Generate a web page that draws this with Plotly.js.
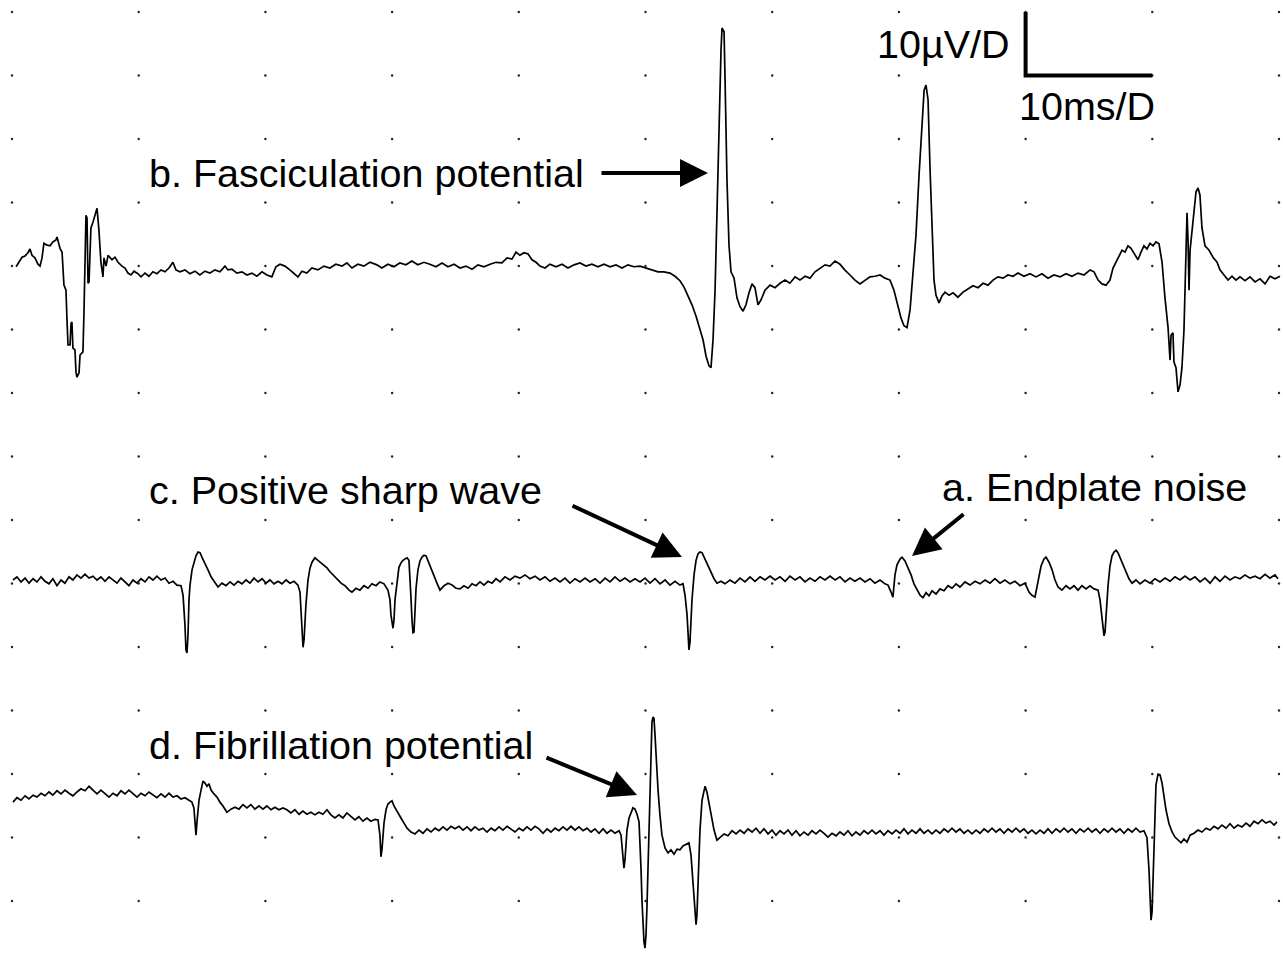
<!DOCTYPE html>
<html>
<head>
<meta charset="utf-8">
<script src="https://cdn.plot.ly/plotly-3.0.1.min.js"></script>
<style>html,body{margin:0;padding:0;background:#fff;}#chart{width:1283px;height:965px;}</style>
</head>
<body>
<div id="chart"></div>
<script>
// ---------------- DATA (time in ms, amplitude in µV relative to each trace's baseline) ----------------
// b. Fasciculation potential trace (top)
const traceB_ms = [
0.32,0.55,0.79,1.03,1.26,1.42,1.58,1.81,2.05,2.21,
2.37,2.52,2.76,3.0,3.23,3.47,3.55,3.79,3.95,4.10,
4.26,4.34,4.42,4.58,4.66,4.73,4.81,4.97,5.05,5.13,
5.29,5.37,5.60,5.68,5.76,5.84,5.92,6.0,6.08,6.15,
6.23,6.39,6.55,6.71,6.86,6.94,7.02,7.18,7.26,7.42,
7.58,7.89,8.13,8.37,8.68,8.92,9.15,9.39,9.63,9.94,
10.18,10.49,10.81,11.12,11.44,11.76,12.07,12.39,12.7,12.94,
13.26,13.65,14.04,14.44,14.83,15.23,15.62,16.02,16.41,16.81,
17.04,17.36,17.75,18.15,18.54,18.94,19.33,19.73,20.12,20.51,
20.83,21.15,21.54,21.93,22.33,22.57,22.88,23.27,23.67,24.14,
24.62,25.09,25.56,26.04,26.43,26.83,27.3,27.77,28.25,28.8,
29.19,29.67,30.14,30.61,31.09,31.56,32.03,32.51,32.98,
33.46,33.94,34.41,34.89,35.36,35.83,36.31,36.78,37.25,37.73,
38.2,38.67,39.07,39.46,39.78,40.09,40.41,40.73,41.04,41.36,
41.67,42.07,42.46,42.94,43.41,43.88,44.36,44.83,45.3,45.77,
46.25,46.72,47.2,47.67,48.14,48.62,49.09,49.57,50.04,50.51,
50.99,51.46,51.93,52.33,52.72,53.04,53.35,53.67,53.99,54.3,
54.54,54.78,55.01,55.17,55.33,55.49,55.64,55.8,55.96,56.04,
56.2,56.28,56.43,56.59,56.75,56.99,57.22,57.46,57.7,57.93,
58.17,58.41,58.64,58.88,59.12,59.43,59.83,60.22,60.62,61.01,
61.4,61.8,62.19,62.59,62.98,63.38,63.77,64.17,64.56,64.96,
65.35,65.72,66.14,66.53,66.93,67.32,67.72,68.11,68.51,68.9,
69.3,69.61,69.93,70.17,70.4,70.64,70.88,71.12,71.35,71.59,
71.83,71.99,72.14,72.3,72.46,72.62,72.77,72.93,73.17,73.4,
73.64,73.96,74.27,74.66,75.06,75.45,75.85,76.24,76.64,77.03,
77.43,77.82,78.22,78.61,79.01,79.4,79.87,80.35,80.82,81.29,
81.77,82.24,82.72,83.19,83.66,84.14,84.61,85.09,85.4,85.72,
86.03,86.35,86.66,86.9,87.13,87.37,87.61,87.85,88.08,88.32,
88.63,88.87,89.11,89.34,89.58,89.82,90.06,90.29,90.53,90.77,
91.0,91.24,91.4,91.48,91.63,91.71,91.87,92.03,92.19,92.34,
92.5,92.58,92.74,92.82,92.9,92.98,93.13,93.29,93.45,93.61,
93.76,93.92,94.16,94.48,94.79,95.11,95.34,95.66,95.98,96.29,
96.61,96.92,97.32,97.71,98.11,98.5,98.9,99.29,99.68,100.08
];
const traceB_uV = [
0.2,0.9,1.7,1.9,2.4,3.0,2.0,1.6,0.6,0.3,
1.6,3.9,3.6,3.5,4.1,4.4,4.9,3.1,2.5,-2.7,
-3.5,-8.2,-12.1,-12.1,-8.7,-8.5,-12.6,-12.9,-16.4,-17.2,
-16.5,-13.7,-13.2,-7.1,1.3,8.3,7.9,-2.4,-2.2,3.6,
6.3,7.2,8.5,9.4,6.0,2.8,0.9,-1.4,1.6,0.3,
2.0,1.3,1.7,0.9,0.3,0,-0.8,-1.1,-0.5,-0.9,
-1.4,-0.8,-1.3,-0.6,-0.9,-0.3,-0.6,0,0.9,-0.3,
-0.6,-0.3,-0.9,-0.5,-1.1,-0.5,-0.8,-0.3,-0.6,0.3,
-0.3,-0.2,-0.8,-0.6,-1.1,-0.8,-1.3,-0.6,-1.1,-1.4,
0.2,0.6,0.3,-0.3,-0.9,-1.4,-0.5,-0.8,0,-0.3,
0.3,0,0.6,0.3,0.8,0,0.6,0.3,0.9,0.5,
0,0.6,0.2,0.8,0.5,1.1,0.5,0.9,0.6,
0.2,0.8,0.2,0.6,0,0.3,-0.2,0.5,0.2,0.6,
0.9,0.8,1.6,1.4,2.5,2.0,2.4,2.2,1.3,0.9,
0.3,0,0.6,0.2,0.6,0,0.5,0.8,0.3,0.6,
0.2,0.6,0.2,0.5,0,0.5,0.2,0.3,0,-0.3,
-0.6,-0.6,-0.8,-1.3,-2.0,-3.0,-4.3,-5.8,-7.6,-9.8,
-11.3,-13.9,-15.4,-15.7,-11.3,-3.5,9.9,23.3,34.3,37.8,
37.2,29.6,13.9,3.6,-0.6,-1.6,-4.7,-6.1,-6.8,-5.8,
-3.9,-2.5,-3.1,-5.8,-5.0,-3.5,-2.7,-3.1,-2.4,-1.9,
-2.4,-1.4,-1.9,-1.3,-1.6,-0.6,0,0.5,0.3,1.1,
0.6,-0.3,-1.1,-1.9,-2.5,-1.9,-1.4,-1.3,-1.1,-1.6,
-1.9,-3.5,-5.8,-7.9,-9.1,-9.4,-6.6,-1.1,5.2,14.6,
22.5,28.0,28.8,26.5,15.4,6.0,-1.9,-4.3,-5.5,-4.4,
-3.8,-4.3,-3.9,-4.6,-3.8,-3.3,-2.8,-3.1,-2.4,-2.7,
-1.9,-1.4,-1.6,-1.1,-1.3,-0.8,-1.3,-0.9,-1.4,-0.9,
-1.6,-1.1,-1.4,-0.9,-1.3,-0.8,-1.1,-0.3,-0.6,-1.9,
-2.5,-2.7,-1.9,0,0.9,1.9,2.8,2.5,3.5,3.1,
2.0,1.3,2.5,3.5,3.0,3.9,3.5,4.1,3.8,0.9,
-4.7,-9.3,-14.5,-10.6,-10.2,-14.8,-15.7,-19.5,-18.4,-15.7,
-9.8,-4.3,8.7,4.4,-3.5,2.8,6.0,9.4,12.0,12.6,
11.5,6.3,3.5,2.8,1.7,0.9,-0.3,-1.1,-1.9,-1.3,
-1.9,-1.4,-2.0,-1.4,-2.2,-1.7,-2.5,-1.3,-1.7,-1.3
];

// c. Positive sharp waves + a. endplate noise trace (middle)
const traceC_ms = [
0.08,0.39,0.71,1.03,1.34,1.66,1.97,2.29,2.6,2.92,
3.23,3.55,3.87,4.18,4.5,4.81,5.13,5.44,5.76,6.08,
6.39,6.71,7.02,7.34,7.66,7.97,8.29,8.6,8.92,9.23,
9.55,9.87,10.18,10.5,10.81,11.13,11.44,11.76,12.08,12.39,
12.71,13.02,13.34,13.5,13.65,13.73,13.81,13.89,13.97,14.05,
14.21,14.36,14.52,14.68,14.84,14.99,15.15,15.31,15.47,15.71,
15.94,16.26,16.57,16.89,17.21,17.52,17.84,18.15,18.47,18.78,
19.1,19.42,19.73,20.05,20.36,20.68,21.0,21.31,21.63,21.94,
22.26,22.57,22.73,22.81,22.89,22.97,23.05,23.13,23.2,23.36,
23.52,23.68,23.91,24.15,24.39,24.62,24.86,25.1,25.33,25.65,
25.97,26.28,26.6,26.83,27.15,27.46,27.78,28.1,28.41,28.73,
29.04,29.36,29.67,29.83,29.91,30.07,30.15,30.23,30.39,30.54,
30.7,30.86,31.02,31.18,31.33,31.41,31.49,31.57,31.65,31.73,
31.81,31.89,32.04,32.2,32.36,32.52,32.68,32.83,33.07,33.31,
33.54,33.78,34.1,34.41,34.73,35.04,35.36,35.67,35.99,36.31,
36.62,36.94,37.25,37.57,37.89,38.2,38.52,38.91,39.31,39.7,
40.09,40.49,40.88,41.28,41.67,42.07,42.46,42.86,43.25,43.65,
44.04,44.44,44.83,45.23,45.62,46.02,46.41,46.81,47.2,47.59,
47.99,48.38,48.78,49.17,49.57,49.96,50.36,50.75,51.15,51.54,
51.93,52.33,52.72,52.96,53.12,53.28,53.35,53.43,53.51,53.59,
53.67,53.83,53.99,54.14,54.3,54.46,54.62,54.78,54.93,55.17,
55.41,55.64,55.96,56.27,56.67,57.06,57.46,57.85,58.25,58.64,
59.04,59.43,59.83,60.22,60.62,61.01,61.4,61.8,62.19,62.59,
62.98,63.38,63.77,64.17,64.56,64.96,65.35,65.75,66.14,66.53,
66.93,67.32,67.72,68.11,68.51,68.9,69.14,69.38,69.53,69.69,
69.85,70.09,70.25,70.48,70.72,70.96,71.19,71.43,71.67,71.9,
72.14,72.38,72.61,72.93,73.24,73.56,73.88,74.19,74.51,74.82,
75.22,75.61,76.01,76.4,76.8,77.19,77.58,77.98,78.37,78.77,
79.16,79.56,79.95,80.27,80.5,80.74,80.98,81.22,81.45,81.61,
81.85,82.09,82.32,82.56,82.87,83.19,83.5,83.82,84.14,84.45,
84.77,85.08,85.4,85.72,85.87,86.03,86.19,86.27,86.35,86.51,
86.66,86.82,86.98,87.14,87.29,87.45,87.69,87.92,88.16,88.4,
88.71,89.03,89.42,89.82,90.21,90.61,91.0,91.4,91.79,92.19,
92.58,92.98,93.37,93.77,94.16,94.56,94.95,95.34,95.74,96.13,
96.53,96.92,97.32,97.71,98.11,98.5,98.9,99.29,99.68,99.92
];
const traceC_uV = [
0,0.5,-0.3,0.3,-0.5,0.2,-0.3,0.5,-0.2,-0.6,
0.2,-0.9,0,-0.5,0.5,0,0.8,0.3,0.9,0.3,
0.6,0,0.5,-0.2,0.5,0,-0.5,0.3,-0.3,-0.9,
0,-0.5,0.2,-0.3,0.5,0,0.6,0,0.3,-0.5,
-0.2,-0.8,-0.9,-2.4,-7.1,-11.0,-11.5,-8.7,-3.1,-0.8,
1.6,2.8,3.8,4.4,4.3,3.6,3.0,2.2,1.6,0.5,
-0.2,-1.1,-0.5,-0.9,-0.3,-0.8,-0.2,-0.6,0,-0.5,
0.3,-0.3,0.2,-0.5,0,-0.6,-0.2,-0.6,0,-0.5,
-0.2,-0.8,-1.9,-4.7,-7.9,-10.6,-9.4,-6.3,-3.9,0,
1.9,2.8,3.5,3.1,2.7,2.2,1.9,1.3,0.8,0.2,
-0.5,-0.9,-1.6,-1.9,-1.3,-1.6,-0.9,-1.3,-0.6,-0.9,
-0.3,-0.6,-1.6,-3.1,-5.5,-7.6,-6.3,-3.1,0,2.0,
2.7,3.1,3.3,3.5,3.1,0.8,-2.8,-6.3,-8.3,-8.2,
-4.7,-1.3,1.6,3.0,3.6,3.9,3.8,3.0,1.9,0.6,
-0.5,-1.6,-0.9,-0.5,-0.8,-1.3,-1.4,-0.9,-1.3,-0.6,
-0.9,-0.3,-0.8,-0.2,-0.5,0.2,-0.3,0.5,0,0.6,
0.3,0.8,0.2,0.6,0,0.5,-0.2,0.3,-0.3,0.3,
-0.5,0.2,-0.3,0.3,-0.3,0.2,-0.5,0.3,-0.3,0.5,
-0.2,0.3,-0.3,0.2,-0.3,0.3,-0.5,0.2,-0.6,0,
-0.8,-0.2,-0.8,-0.6,-2.4,-5.5,-8.7,-11.0,-9.8,-6.3,
-3.1,0.8,3.1,4.1,4.4,4.3,3.6,2.8,2.2,1.1,
0.2,-0.5,-0.2,-0.6,0,-0.5,0.3,-0.3,0.5,-0.2,
0.5,0,0.6,0,0.5,-0.2,0.6,0,0.5,-0.3,
0.3,-0.2,0.5,0,0.6,0,0.5,-0.3,0.3,-0.2,
0.3,-0.3,0.2,-0.5,0,-0.6,-0.8,-1.9,-2.7,0.8,
2.4,3.3,3.6,3.0,2.0,0.8,-0.6,-1.6,-2.4,-2.8,
-2.0,-2.5,-1.7,-2.2,-1.4,-1.7,-0.9,-1.3,-0.6,-1.1,
-0.3,-0.8,-0.2,-0.6,0,-0.5,0.2,-0.5,0,-0.6,
-0.2,-0.9,-0.5,-1.9,-2.4,-2.7,0,2.2,3.3,3.6,
2.8,1.6,0,-1.1,-1.6,-0.9,-1.4,-0.9,-1.6,-0.9,
-1.4,-0.9,-1.4,-1.6,-3.1,-6.0,-8.8,-8.2,-5.0,-0.8,
2.2,3.8,4.4,4.7,4.3,3.5,2.4,1.3,0.2,-0.5,
0,-0.6,0,-0.5,0.2,-0.3,0.3,-0.2,0.5,0,
0.6,0,0.5,-0.3,0.3,-0.5,0.5,-0.2,0.6,0,
0.5,0.2,0.8,0.3,0.6,0.2,0.9,0.3,0.8,0.2
];

// d. Fibrillation potential trace (bottom)
const traceD_ms = [
0.08,0.39,0.71,1.03,1.34,1.66,1.97,2.29,2.6,2.92,
3.23,3.55,3.87,4.18,4.5,4.81,5.13,5.44,5.76,6.08,
6.39,6.71,7.02,7.34,7.66,7.97,8.29,8.6,8.92,9.23,
9.55,9.87,10.18,10.5,10.81,11.13,11.44,11.76,12.08,12.39,
12.71,13.02,13.34,13.65,13.97,14.2,14.36,14.52,14.6,14.76,
14.92,15.07,15.23,15.39,15.55,15.71,15.94,16.18,16.41,16.65,
16.96,17.28,17.59,17.91,18.23,18.54,18.86,19.17,19.49,19.8,
20.12,20.44,20.75,21.07,21.38,21.7,22.01,22.33,22.65,22.96,
23.28,23.59,23.91,24.22,24.54,24.86,25.17,25.49,25.8,26.12,
26.43,26.75,27.07,27.38,27.7,28.01,28.33,28.65,28.89,29.04,
29.12,29.2,29.36,29.52,29.67,29.83,29.99,30.15,30.31,30.46,
30.7,30.94,31.18,31.49,31.81,32.12,32.44,32.75,33.07,33.39,
33.7,34.02,34.33,34.65,34.96,35.28,35.6,35.91,36.23,36.54,
36.86,37.17,37.49,37.81,38.12,38.44,38.75,39.07,39.38,39.7,
40.02,40.33,40.65,40.96,41.28,41.59,41.91,42.23,42.54,42.86,
43.17,43.49,43.8,44.12,44.44,44.75,45.07,45.38,45.7,46.01,
46.33,46.65,46.96,47.28,47.59,47.91,48.07,48.22,48.3,48.38,
48.54,48.7,48.85,49.01,49.17,49.33,49.49,49.57,49.65,49.72,
49.8,49.88,49.96,50.04,50.12,50.2,50.28,50.36,50.43,50.51,
50.59,50.67,50.75,50.83,50.99,51.14,51.3,51.54,51.78,52.01,
52.25,52.49,52.72,52.96,53.2,53.43,53.59,53.75,53.91,53.99,
54.06,54.14,54.3,54.46,54.62,54.7,54.85,55.01,55.17,55.41,
55.64,55.88,56.2,56.51,56.83,57.15,57.46,57.78,58.09,58.41,
58.72,59.04,59.35,59.67,59.98,60.3,60.62,60.93,61.25,61.56,
61.88,62.19,62.51,62.83,63.14,63.46,63.77,64.09,64.4,64.72,
65.04,65.35,65.67,65.98,66.3,66.61,66.93,67.25,67.56,67.88,
68.19,68.51,68.82,69.14,69.46,69.77,70.09,70.4,70.72,71.03,
71.35,71.67,71.98,72.3,72.61,72.93,73.24,73.56,73.88,74.19,
74.51,74.82,75.14,75.45,75.77,76.09,76.4,76.72,77.03,77.35,
77.66,77.98,78.3,78.61,78.93,79.24,79.56,79.87,80.19,80.5,
80.82,81.14,81.45,81.77,82.08,82.4,82.72,83.03,83.35,83.66,
83.98,84.29,84.61,84.93,85.24,85.56,85.87,86.19,86.51,86.82,
87.14,87.45,87.77,88.08,88.4,88.71,89.03,89.34,89.58,89.74,
89.82,89.9,89.98,90.06,90.13,90.21,90.29,90.45,90.61,90.77,
90.92,91.08,91.32,91.56,91.79,92.03,92.27,92.5,92.74,92.98,
93.29,93.61,93.92,94.24,94.56,94.87,95.19,95.5,95.82,96.13,
96.45,96.76,97.08,97.4,97.71,98.03,98.34,98.66,98.97,99.29,
99.61,99.84
];
const traceD_uV = [
4.7,5.4,5.0,5.7,5.2,5.8,5.5,6.1,5.7,6.3,
5.8,6.5,6.0,6.6,6.1,5.7,6.3,6.8,6.5,7.2,
6.6,6.0,6.6,6.1,5.5,6.1,5.7,6.5,6.0,6.6,
6.0,5.5,6.1,5.7,6.3,5.8,5.4,6.0,5.5,6.1,
5.5,5.7,5.2,5.4,5.0,4.7,3.8,-0.5,1.6,5.0,
6.6,8.0,7.7,7.2,7.6,6.6,6.0,5.5,4.7,4.1,
3.1,3.6,3.9,3.6,4.3,3.8,4.3,3.6,4.1,3.6,
4.1,3.5,3.9,3.5,3.8,3.5,3.0,3.5,2.8,3.3,
2.8,3.1,2.7,3.1,2.8,3.5,2.7,2.2,2.7,2.2,
3.0,2.4,1.9,2.4,1.7,2.2,1.7,2.0,1.9,-0.5,
-3.9,-2.8,1.4,3.5,4.4,4.7,4.9,4.1,3.5,3.0,
2.2,1.4,0.6,0,-0.3,0.3,-0.2,0.5,0,0.6,
0.2,0.8,0.3,0.9,0.5,0.9,0.3,0.8,0.2,0.8,
0.3,0.6,0,0.6,0.2,0.8,0.3,0.9,0.5,0,
0.6,0.2,0.8,0.3,0.9,0.5,-0.2,0.5,0,0.6,
0.2,0.8,0.3,0.9,0.3,0.8,0.2,0.6,0,0.5,
-0.2,0.5,-0.2,0.3,-0.2,0.2,-0.5,-3.6,-5.7,-4.4,
0.3,2.2,3.1,3.8,3.6,2.8,1.6,-1.3,-6.0,-10.7,
-14.6,-17.3,-18.3,-16.2,-11.5,-6.0,0.3,6.6,12.9,17.3,
18.1,17.9,15.3,11.7,6.6,2.7,-0.5,-2.5,-3.3,-2.8,
-3.5,-2.7,-2.8,-2.2,-2.0,-1.7,-3.6,-7.6,-13.1,-14.6,
-13.1,-7.6,0.3,5.0,6.9,7.2,6.3,4.7,2.7,0.3,
-1.3,-0.9,-0.3,-0.6,0.2,-0.3,0.3,-0.2,0.5,0,
0.6,-0.2,0.5,-0.3,0.3,-0.5,0.2,-0.3,0.3,-0.5,
0.2,-0.6,0,-0.5,0.2,-0.3,0.3,-0.2,-0.8,-0.2,
-0.6,0,-0.5,0.2,-0.6,0,-0.5,0.2,-0.3,0.3,
-0.3,0.2,-0.5,0.2,-0.3,0.3,-0.2,0.5,-0.3,0.3,
-0.2,0.5,-0.2,0.3,-0.3,0.3,-0.2,0.5,0,0.6,
0,0.5,-0.2,0.3,-0.3,0.3,-0.2,0.5,0,0.6,
0,0.5,-0.2,0.5,0,0.6,0,0.5,-0.2,0.3,
-0.3,0.3,-0.2,0.5,-0.2,0.5,0,0.6,0,0.5,
-0.2,0.5,0,0.6,0,0.5,-0.2,0.5,0,0.6,
0,0.5,-0.2,0.5,0,0.6,0,0.2,-0.9,-6.0,
-11.5,-13.9,-12.6,-7.6,-2.8,2.7,7.4,9.1,9.0,7.7,
5.7,3.5,1.3,0,-0.8,-1.3,-1.7,-1.1,-1.6,-0.5,
-0.2,0.3,0,0.6,0.3,0.9,0.5,1.1,0.6,1.3,
0.6,1.1,0.8,1.4,0.9,1.7,1.3,1.9,1.4,1.7,
1.1,1.6
];

// Labels
const labelB = "b. Fasciculation potential";
const labelC = "c. Positive sharp wave";
const labelA = "a. Endplate noise";
const labelD = "d. Fibrillation potential";
const scaleV = "10µV/D";
const scaleT = "10ms/D";
const divMs = 10;   // ms per division
const divUV = 10;   // µV per division

// ---------------- LAYOUT GEOMETRY ----------------
const W = 1283, H = 965;
const PX0 = 12, PY0 = 12;          // first grid dot (px)
const PX_PER_MS = 12.67;           // 126.7 px per 10 ms division
const PX_PER_UV = 6.35;            // 63.5 px per 10 µV division
const baseB = 268, baseC = 580, baseD = 832;  // baseline pixel rows

function uvAxis(basePx) {
  return {overlaying: 'y', visible: false, fixedrange: true,
          range: [(basePx - H) / PX_PER_UV, basePx / PX_PER_UV]};
}
function px(x, y) { return {x: x / W, y: 1 - y / H}; }

// grid dots (divisions)
const gx = [], gy = [];
for (let c = 0; c <= 10; c++) for (let r = 0; r <= 14; r++) { gx.push(c * divMs); gy.push(-r); }

const lineStyle = {color: '#000', width: 1.7};
const data = [
  {x: gx, y: gy, type: 'scatter', mode: 'markers', marker: {size: 2.4, color: '#222'}, hoverinfo: 'skip', xaxis: 'x', yaxis: 'y'},
  {x: traceB_ms, y: traceB_uV, type: 'scatter', mode: 'lines', line: lineStyle, xaxis: 'x', yaxis: 'y2', hoverinfo: 'skip'},
  {x: traceC_ms, y: traceC_uV, type: 'scatter', mode: 'lines', line: lineStyle, xaxis: 'x', yaxis: 'y3', hoverinfo: 'skip'},
  {x: traceD_ms, y: traceD_uV, type: 'scatter', mode: 'lines', line: lineStyle, xaxis: 'x', yaxis: 'y4', hoverinfo: 'skip'}
];

const font = {family: 'Liberation Sans, Arial, sans-serif', size: 39.5, color: '#000'};
function textAnn(t, x, y) {
  const p = px(x, y);
  return {text: t, x: p.x, y: p.y, xref: 'paper', yref: 'paper', xanchor: 'left', yanchor: 'middle', showarrow: false, font: font, borderpad: 0};
}
function arrowAnn(tailX, tailY, headX, headY) {
  const p = px(headX, headY);
  return {text: '', x: p.x, y: p.y, xref: 'paper', yref: 'paper', showarrow: true,
          ax: tailX - headX, ay: tailY - headY, arrowhead: 2, arrowsize: 1.4, arrowwidth: 4, arrowcolor: '#000'};
}

const layout = {
  width: W, height: H, autosize: false,
  margin: {l: 0, r: 0, t: 0, b: 0, pad: 0},
  paper_bgcolor: '#fff', plot_bgcolor: '#fff',
  showlegend: false,
  xaxis: {visible: false, fixedrange: true, range: [-PX0 / PX_PER_MS, (W - PX0) / PX_PER_MS]},
  yaxis: {visible: false, fixedrange: true, range: [-(H - PY0) / (PX_PER_UV * divUV), PY0 / (PX_PER_UV * divUV)]},
  yaxis2: uvAxis(baseB),
  yaxis3: uvAxis(baseC),
  yaxis4: uvAxis(baseD),
  shapes: [
    {type: 'path', xref: 'x', yref: 'y', path: 'M 80 0 L 80 -1 L 90 -1', line: {color: '#000', width: 4}}
  ],
  annotations: [
    textAnn(scaleV, 876, 44),
    textAnn(scaleT, 1018, 106),
    textAnn(labelB, 148, 173),
    textAnn(labelC, 148, 490),
    textAnn(labelA, 941, 487),
    textAnn(labelD, 148, 745),
    arrowAnn(600, 173, 708, 173),
    arrowAnn(571, 505, 682, 557),
    arrowAnn(965, 513, 912, 556),
    arrowAnn(545, 757, 637, 795)
  ]
};

Plotly.newPlot('chart', data, layout, {staticPlot: true, displayModeBar: false});
</script>
</body>
</html>
